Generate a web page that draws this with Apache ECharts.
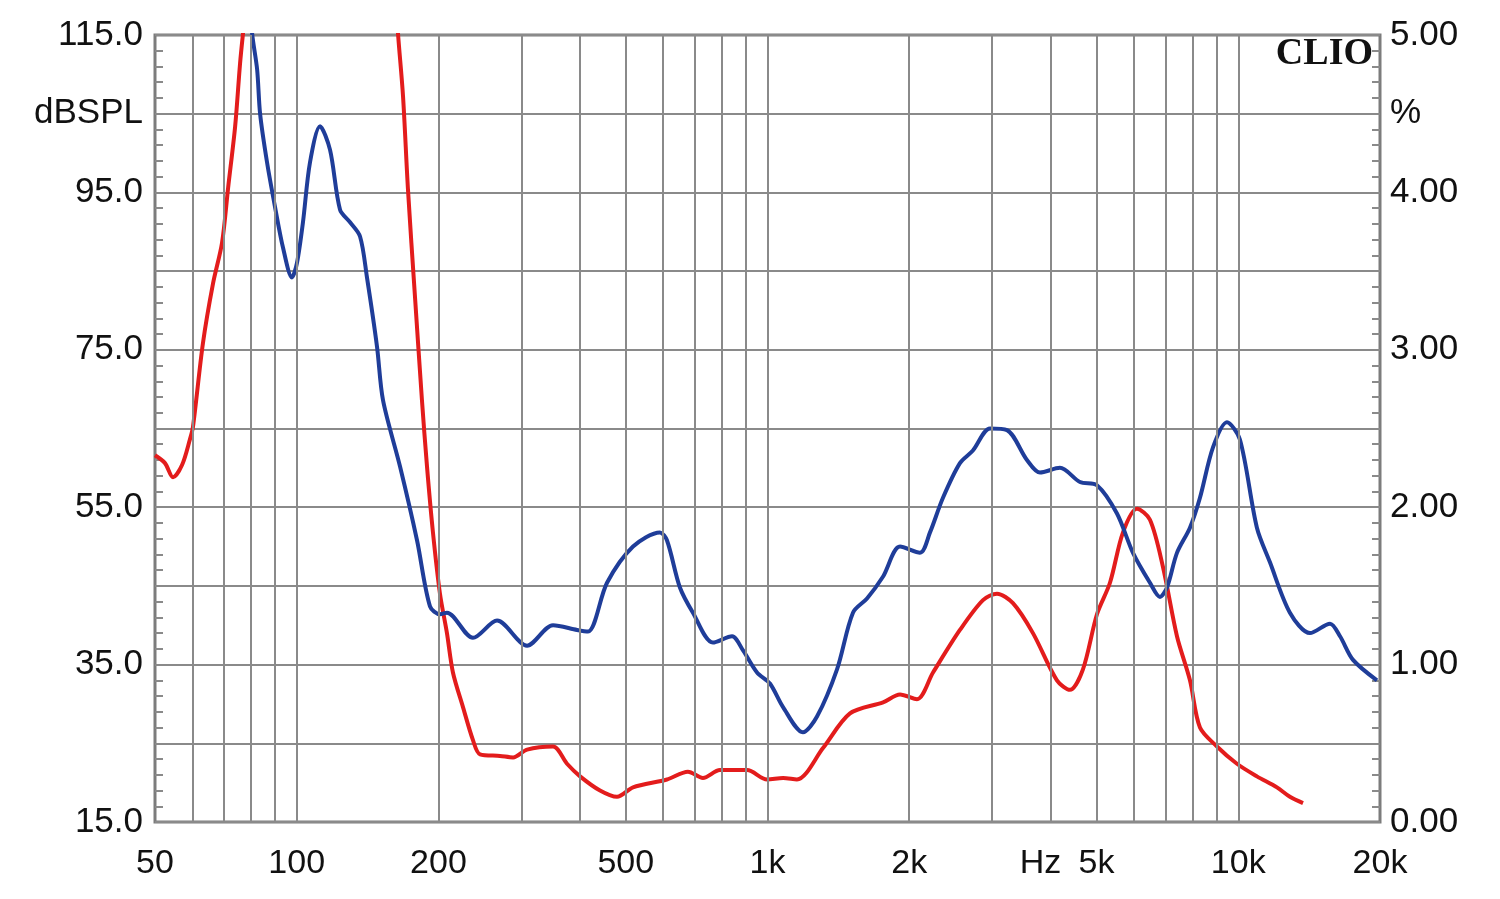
<!DOCTYPE html>
<html>
<head>
<meta charset="utf-8">
<script src="https://cdn.jsdelivr.net/npm/echarts@6/dist/echarts.min.js"></script>
<style>
  html, body { margin: 0; padding: 0; background: #ffffff; }
  #chart { width: 1500px; height: 899px; }
</style>
</head>
<body>
<div id="chart"></div>
<script>
// Frequencies (Hz) and values (%)
const redFreq = [50, 52.5, 54.6, 57.1, 59.3, 60.2, 63.2, 66.4, 69.4, 71.5, 74.0, 75.8, 76.9, 80, 120, 160,
  164.1, 168.2, 172.3, 178.3, 184.5, 189.1, 194.7, 201.5, 208.5, 214.7, 225.5, 236.8, 245.1, 270.3, 288.1,
  308.5, 350.3, 375.1, 399.8, 440.8, 479, 518, 611.5, 677.6, 729.2, 792.4, 904.8, 998, 1079, 1155, 1312,
  1497, 1760, 1912, 2077, 2247, 2563, 2869, 3072, 3322, 3663, 4119, 4390, 4678, 5010, 5339, 5690, 6093,
  6492, 6919, 7409, 7895, 8291, 9010, 9934, 10954, 12083, 12873, 13725];
const redVals = [2.33, 2.28, 2.19, 2.27, 2.43, 2.51, 3.04, 3.42, 3.68, 4.03, 4.42, 4.82, 5.01, 5.5, 7.5, 5.5,
  5.01, 4.61, 4.02, 3.34, 2.68, 2.26, 1.84, 1.45, 1.20, 0.95, 0.73, 0.52, 0.43, 0.42, 0.41,
  0.46, 0.48, 0.37, 0.29, 0.20, 0.16, 0.22, 0.27, 0.32, 0.28, 0.33, 0.33, 0.27, 0.28, 0.27, 0.47,
  0.69, 0.76, 0.81, 0.78, 0.95, 1.22, 1.41, 1.45, 1.39, 1.20, 0.90, 0.84, 0.97, 1.32, 1.52, 1.84, 1.99,
  1.92, 1.62, 1.18, 0.90, 0.60, 0.48, 0.37, 0.29, 0.22, 0.16, 0.12];

const blueFreq = [78, 80.4, 82.4, 83.6, 86.5, 89.9, 93.5, 97.7, 100.1, 103.1, 106.7, 112.1, 117.7, 123.6,
  129.8, 136.3, 141.0, 148.1, 152.5, 165.7, 180.1, 191.9, 201.5, 208.5, 236.8, 266.4, 308.5, 350.3, 394,
  415.7, 456.2, 518, 590.9, 611.5, 651.6, 694.4, 765.7, 840.8, 887.3, 950, 1012, 1079, 1189, 1274, 1405,
  1519, 1627, 1760, 1912, 2108, 2214, 2359, 2563, 2731, 2969, 3226, 3557, 3791, 4180, 4610, 5010, 5525,
  5975, 6492, 6818, 7056, 7409, 7895, 8291, 8836, 9461, 10080, 10954, 11676, 12873, 14201, 15662, 16448,
  17527, 19706];
const blueVals = [5.5, 5.01, 4.78, 4.50, 4.19, 3.91, 3.65, 3.46, 3.55, 3.81, 4.19, 4.42, 4.27, 3.89,
  3.81, 3.72, 3.46, 3.02, 2.68, 2.26, 1.79, 1.37, 1.32, 1.33, 1.17, 1.28, 1.12, 1.25, 1.22,
  1.21, 1.52, 1.75, 1.84, 1.79, 1.49, 1.33, 1.14, 1.18, 1.09, 0.95, 0.88, 0.73, 0.57, 0.67, 0.97,
  1.33, 1.42, 1.56, 1.75, 1.71, 1.84, 2.06, 2.28, 2.36, 2.50, 2.49, 2.30, 2.22, 2.25, 2.16, 2.14, 1.96,
  1.71, 1.52, 1.43, 1.49, 1.71, 1.87, 2.06, 2.38, 2.54, 2.43, 1.87, 1.65, 1.33, 1.20, 1.26, 1.18,
  1.03, 0.90];

const gridFreqs = [60, 70, 80, 90, 100, 200, 300, 400, 500, 600, 700, 800, 900, 1000,
  2000, 3000, 4000, 5000, 6000, 7000, 8000, 9000, 10000];
const xLabelValues = [50, 100, 200, 500, 1000, 2000, 3800, 5000, 10000, 20000];
const xLabelTexts = ['50', '100', '200', '500', '1k', '2k', 'Hz', '5k', '10k', '20k'];

const FONT = '"Liberation Sans", Arial, sans-serif';
const GRID_COLOR = '#8a8a8a';

const chart = echarts.init(document.getElementById('chart'), null, { renderer: 'canvas' });

const option = {
  animation: false,
  backgroundColor: '#ffffff',
  grid: {
    left: 155, right: 120, top: 35, bottom: 77,
    show: true, borderColor: '#7c7c7c', borderWidth: 3, backgroundColor: 'transparent'
  },
  xAxis: {
    type: 'log', logBase: 10, min: 50, max: 20000,
    axisLine: { show: false },
    axisTick: { show: false },
    splitLine: { show: false },
    axisLabel: {
      customValues: xLabelValues,
      formatter: function (v) {
        for (let i = 0; i < xLabelValues.length; i++) {
          if (Math.abs(xLabelValues[i] - v) < 1e-6 * xLabelValues[i] + 0.5) return xLabelTexts[i];
        }
        return '';
      },
      color: '#111', fontSize: 34, fontFamily: FONT, margin: 25
    }
  },
  yAxis: [
    {
      type: 'value', min: 15, max: 115, interval: 10, position: 'left',
      axisLine: { show: false },
      axisTick: { show: true, inside: true, length: 8, lineStyle: { color: GRID_COLOR, width: 2 } },
      minorTick: { show: true, splitNumber: 5, length: 8, lineStyle: { color: GRID_COLOR, width: 2 } },
      splitLine: { show: false },
      axisLabel: {
        formatter: function (v) {
          const r = Math.round(v);
          if (r === 105) return 'dBSPL';
          if ((r - 15) % 20 === 0) return r.toFixed(1);
          return '';
        },
        color: '#111', fontSize: 35, fontFamily: FONT, margin: 12
      }
    },
    {
      type: 'value', min: 0, max: 5, interval: 0.5, position: 'right',
      axisLine: { show: false },
      axisTick: { show: true, inside: true, length: 8, lineStyle: { color: GRID_COLOR, width: 2 } },
      minorTick: { show: true, splitNumber: 5, length: 8, lineStyle: { color: GRID_COLOR, width: 2 } },
      splitLine: { show: true, lineStyle: { color: GRID_COLOR, width: 2 } },
      axisLabel: {
        formatter: function (v) {
          const r = Math.round(v * 10) / 10;
          if (Math.abs(r - 4.5) < 1e-6) return '%';
          if (Math.abs(r - Math.round(r)) < 1e-6) return r.toFixed(2);
          return '';
        },
        color: '#111', fontSize: 35, fontFamily: FONT, margin: 10
      }
    }
  ],
  series: [
    {
      type: 'line', data: [], yAxisIndex: 1, z: 1, silent: true,
      markLine: {
        silent: true, symbol: ['none', 'none'], animation: false,
        label: { show: false },
        lineStyle: { color: GRID_COLOR, width: 2, type: 'solid' },
        emphasis: { disabled: true },
        data: gridFreqs.map(f => ({ xAxis: f }))
      }
    },
    {
      name: 'red', type: 'line', yAxisIndex: 1, z: 3,
      data: redFreq.map((f, i) => [f, redVals[i]]),
      showSymbol: false, symbol: 'none', smooth: 0.3, clip: true,
      lineStyle: { color: '#e31c1c', width: 4 }
    },
    {
      name: 'blue', type: 'line', yAxisIndex: 1, z: 4,
      data: blueFreq.map((f, i) => [f, blueVals[i]]),
      showSymbol: false, symbol: 'none', smooth: 0.3, clip: true,
      lineStyle: { color: '#1f3d99', width: 4 }
    }
  ],
  graphic: [
    {
      type: 'text', right: 127, top: 35, z: 10,
      style: { text: 'CLIO', fill: '#111', font: 'bold 38px "Liberation Serif", "Times New Roman", serif' }
    }
  ]
};
chart.setOption(option);
</script>
</body>
</html>
